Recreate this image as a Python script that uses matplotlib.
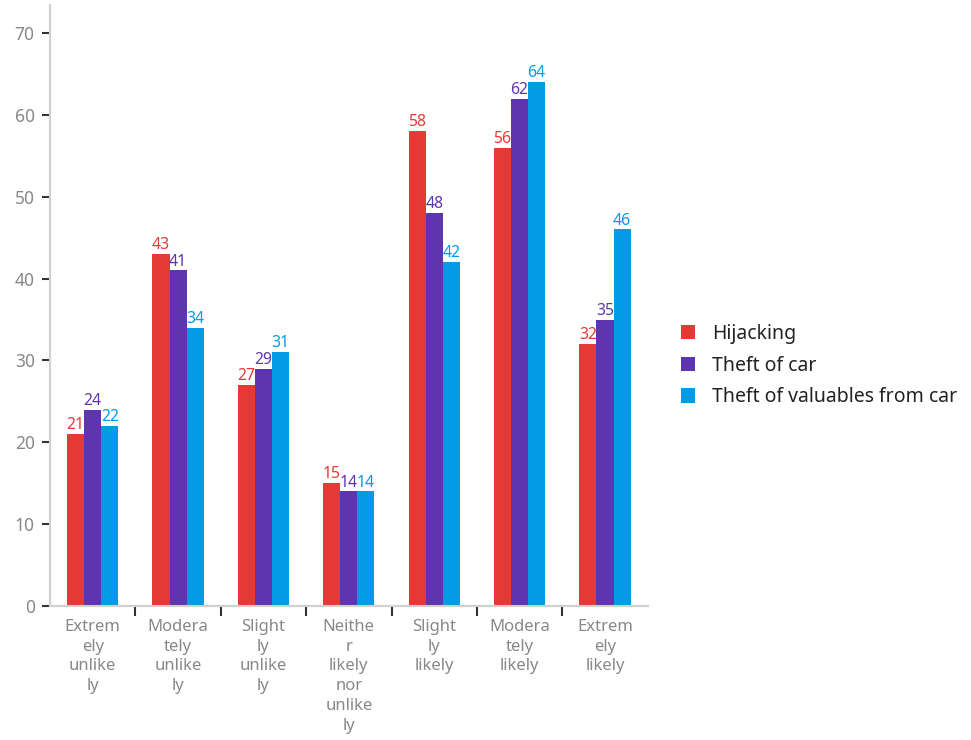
import matplotlib
matplotlib.use("Agg")
import matplotlib.pyplot as plt
import numpy as np

categories = ["Extrem\nely\nunlike\nly", "Modera\ntely\nunlike\nly", "Slight\nly\nunlike\nly",
              "Neithe\nr\nlikely\nnor\nunlike\nly", "Slight\nly\nlikely", "Modera\ntely\nlikely",
              "Extrem\nely\nlikely"]
series_names = ["Hijacking", "Theft of car", "Theft of valuables from car"]
hijacking = [21, 43, 27, 15, 58, 56, 32]
theft_of_car = [24, 41, 29, 14, 48, 62, 35]
theft_valuables = [22, 34, 31, 14, 42, 64, 46]
colors = ["#E53935", "#5E35B1", "#039BE5"]

plt.rcParams["font.family"] = ["Noto Sans", "DejaVu Sans"]

fig = plt.figure(figsize=(9.71, 7.4), dpi=100)
ax = fig.add_axes([0.0515, 0.181, 0.6155, 0.812])

x = np.arange(len(categories))
bw = 0.2
for k, (vals, name, c) in enumerate(zip([hijacking, theft_of_car, theft_valuables], series_names, colors)):
    pos = x + (k - 1) * bw
    ax.bar(pos, vals, width=bw, color=c, label=name, zorder=2)
    for p, v in zip(pos, vals):
        ax.text(p, v + 0.1, str(v), ha="center", va="bottom", color=c, fontsize=11.3)

ax.set_xlim(-0.5, len(categories) - 0.5)
ax.set_ylim(0, 73.4)
ax.set_yticks(range(0, 71, 10))
ax.tick_params(axis="y", colors="#333333", length=6, width=1.5, labelcolor="#888888",
               labelsize=12.5, pad=5)

# category labels centred, ticks drawn at group boundaries
ax.set_xticks(x)
ax.set_xticklabels(categories, color="#888888", fontsize=12, linespacing=1.33)
ax.tick_params(axis="x", length=0, pad=9)
ax.set_xticks(np.arange(0.5, len(categories) - 0.5, 1), minor=True)
ax.tick_params(axis="x", which="minor", length=7, width=1.5, colors="#333333")

for s in ["top", "right"]:
    ax.spines[s].set_visible(False)
for s in ["left", "bottom"]:
    ax.spines[s].set_color("#d0d0d0")
    ax.spines[s].set_linewidth(1.5)

leg = fig.legend(loc="center left", bbox_to_anchor=(0.683, 0.506), frameon=False,
                 fontsize=14, handlelength=0.75, handleheight=0.75, handletextpad=0.85,
                 labelspacing=0.6)
for t in leg.get_texts():
    t.set_color("#222222")

fig.savefig("out.png", dpi=100)
